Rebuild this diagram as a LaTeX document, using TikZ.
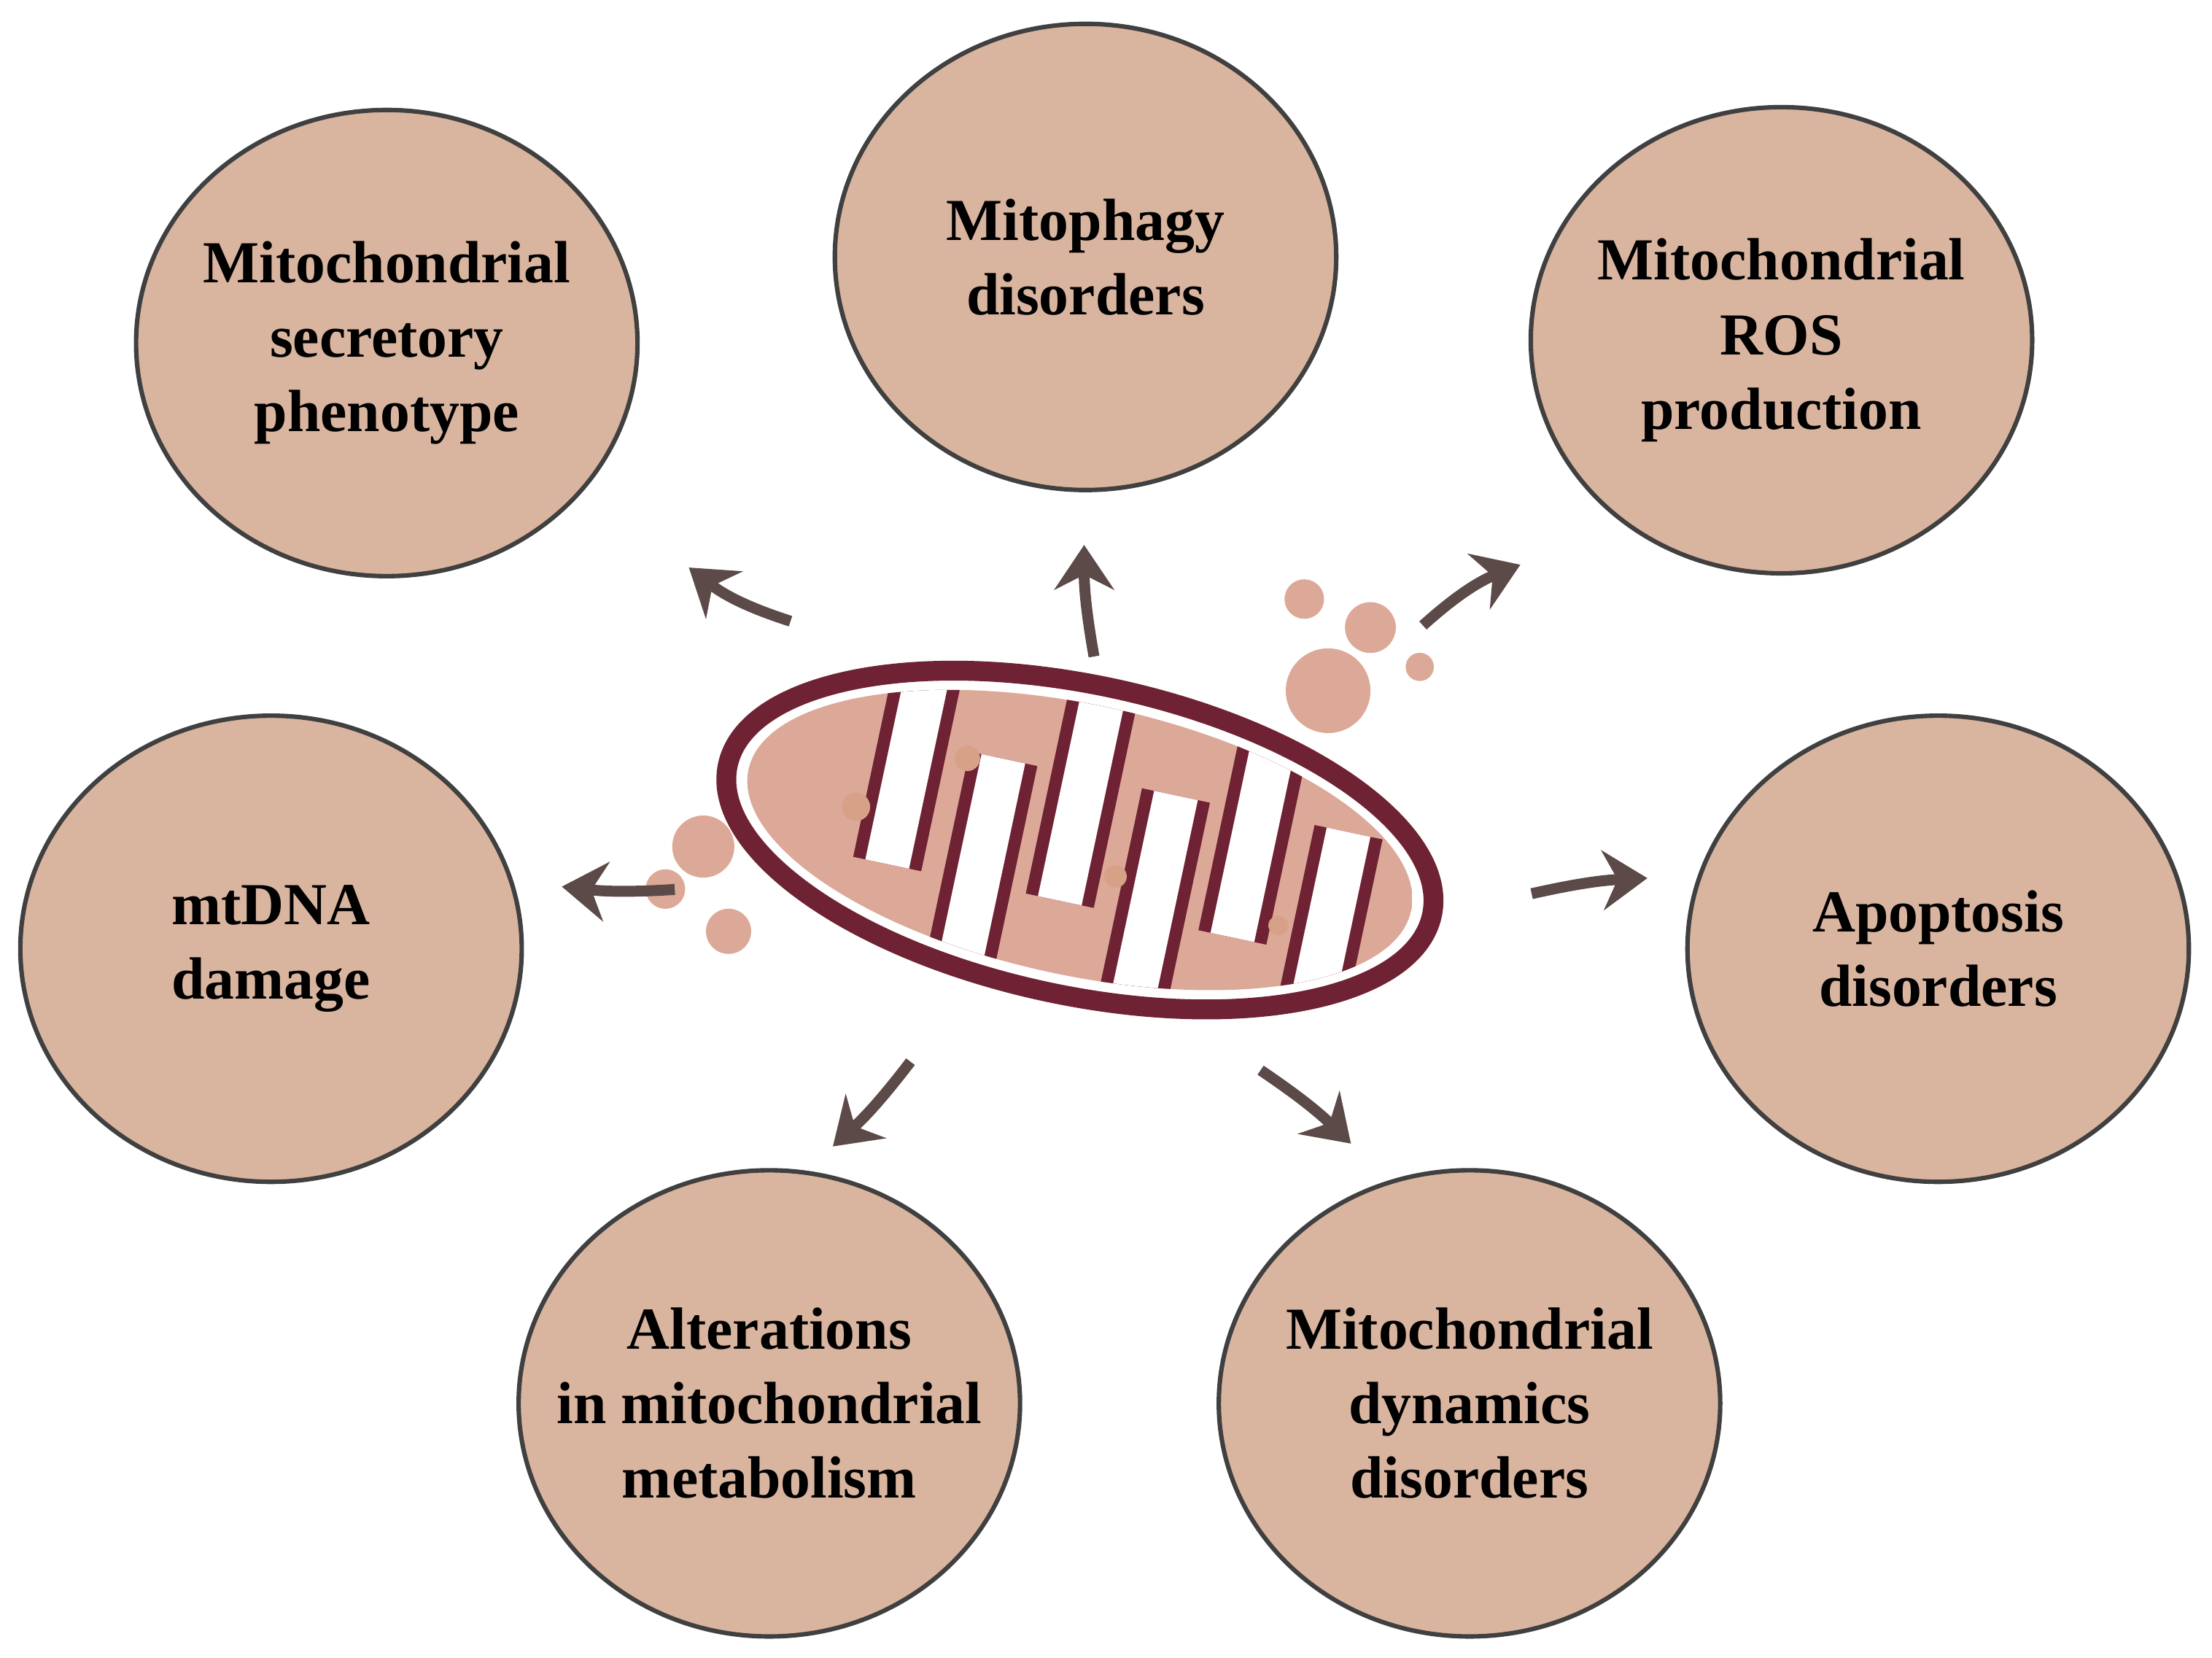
\documentclass[tikz,border=0pt]{standalone}
\usepackage{fontspec}
\setmainfont{Liberation Serif}
\usetikzlibrary{arrows.meta,shapes.geometric}
\definecolor{circfill}{HTML}{D9B5A0}
\definecolor{arrowc}{HTML}{5B4A48}
\definecolor{maroon}{HTML}{6E2233}
\definecolor{matrixc}{HTML}{DCA998}
\tikzset{
  bubble/.style={draw=black!75, line width=0.9pt, fill=circfill, ellipse, inner sep=0pt, minimum width=3.55cm, minimum height=3.3cm},
  label text/.style={align=center, font=\bfseries\fontsize{12}{15}\selectfont},
  effect/.style={draw=arrowc, line width=2.2pt, -{Stealth[length=9pt,width=12pt,inset=3pt]}},
  blob/.style={fill=matrixc}
}
\begin{document}
\begin{tikzpicture}[x=0.01cm,y=-0.01cm]
\useasboundingbox (0,0) rectangle (1567,1174);

\node[bubble] (sec) at (274,243) {};
\node[bubble] (mito) at (769,182) {};
\node[bubble] (ros) at (1262,241) {};
\node[bubble] (dna) at (192,672) {};
\node[bubble] (apo) at (1373,672) {};
\node[bubble] (alt) at (545,994) {};
\node[bubble] (dyn) at (1041,994) {};
\node[label text] at (sec) {Mitochondrial\\secretory\\phenotype};
\node[label text] at (mito) {Mitophagy\\disorders};
\node[label text] at (ros) {Mitochondrial\\ROS\\production};
\node[label text] at (dna) {mtDNA\\damage};
\node[label text] at (apo) {Apoptosis\\disorders};
\node[label text] at (alt) {Alterations\\in mitochondrial\\metabolism};
\node[label text] at (dyn) {Mitochondrial\\dynamics\\disorders};

% mitochondrion
\begin{scope}[shift={(765,595)}, rotate=-12]
  \fill[blob] (150,-140) circle (30) (170,-190) circle (18) (120,-200) circle (14)
              (210,-170) circle (10) (-260,60) circle (22) (-280,95) circle (14) (-230,115) circle (16);
  \draw[maroon, line width=4pt, fill=white] (0,0) ellipse (255 and 110);
  \begin{scope}
    \clip (0,0) ellipse (240 and 96);
    \fill[matrixc] (0,0) ellipse (240 and 96);
    \foreach \x in {-130,-5,120}
      {\draw[maroon, line width=14pt] (\x,-110) -- (\x,45);
       \draw[white, line width=9pt] (\x,-110) -- (\x,45);}
    \foreach \x in {-65,60,185}
      {\draw[maroon, line width=14pt] (\x,110) -- (\x,-45);
       \draw[white, line width=9pt] (\x,110) -- (\x,-45);}
    \fill[matrixc!80!brown] (-160,10) circle (10) (30,20) circle (8) (-90,-40) circle (9) (150,30) circle (7);
  \end{scope}
\end{scope}

% arrows
\coordinate (a1) at (560,440);
\coordinate (a2) at (775,465);
\coordinate (a3) at (1008,443);
\coordinate (a4) at (478,630);
\coordinate (a5) at (1085,633);
\coordinate (a6) at (645,752);
\coordinate (a7) at (893,758);
\coordinate (b1) at (488,402);
\coordinate (b2) at (768,386);
\coordinate (b3) at (1077,400);
\coordinate (b4) at (398,628);
\coordinate (b5) at (1167,622);
\coordinate (b6) at (590,812);
\coordinate (b7) at (957,810);
\draw[effect] (a1) to[bend left=10] (b1);
\draw[effect] (a2) to[bend left=5] (b2);
\draw[effect] (a3) to[bend left=10] (b3);
\draw[effect] (a4) to[bend left=5] (b4);
\draw[effect] (a5) to[bend left=5] (b5);
\draw[effect] (a6) to[bend left=5] (b6);
\draw[effect] (a7) to[bend left=5] (b7);
\end{tikzpicture}
\end{document}
